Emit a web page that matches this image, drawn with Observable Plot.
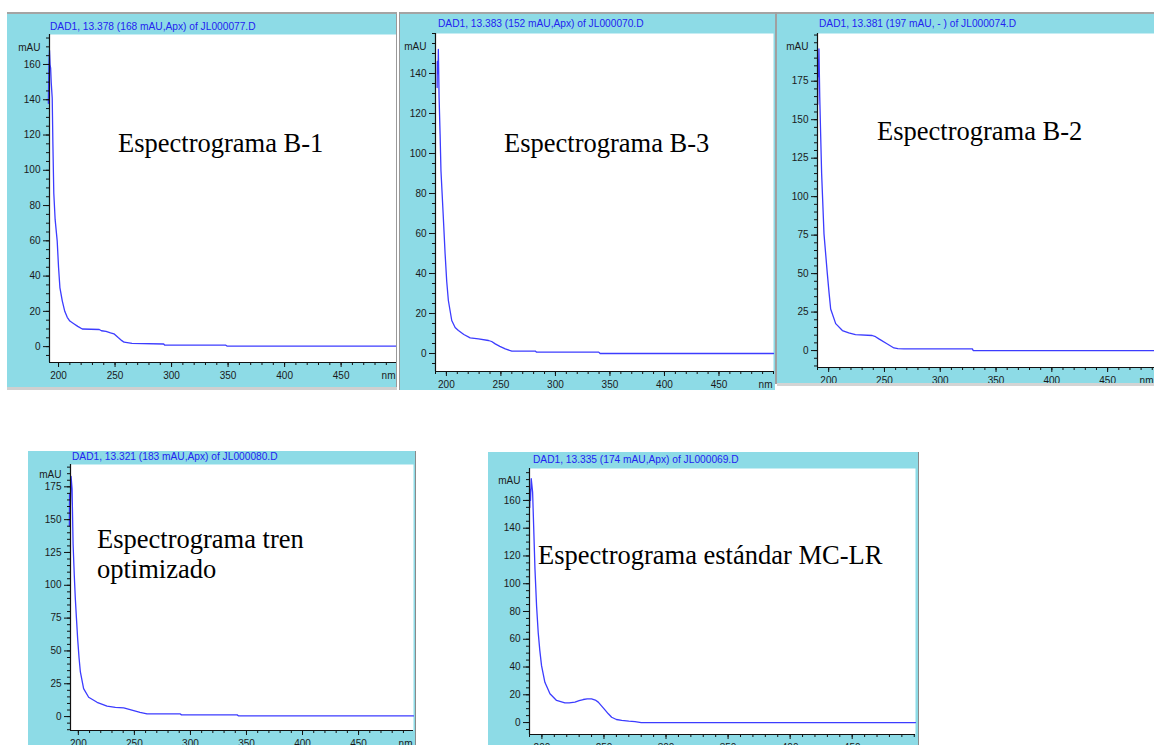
<!DOCTYPE html>
<html><head><meta charset="utf-8">
<script src="https://cdn.jsdelivr.net/npm/d3@7"></script>
<script src="https://cdn.jsdelivr.net/npm/@observablehq/plot@0.6"></script>
<style>
body{margin:0;background:#fff;width:1154px;height:745px;position:relative;overflow:hidden}
.panel{position:absolute;background:#8ddbe6;overflow:hidden}
.panel svg{position:absolute;left:0;top:0}
.hdr{position:absolute;font:10.2px "Liberation Sans",Arial,sans-serif;color:#2323f0;white-space:nowrap;line-height:1}
.ann{position:absolute;font:26.5px "Liberation Serif","Times New Roman",serif;color:#000;white-space:nowrap;line-height:30px}
.bar{position:absolute}
</style></head>
<body>
<script>
// ---------- data (wavelength nm, absorbance mAU) ----------
const b1_nm  = [191, 191.5, 192, 192.5, 193, 193.5, 194.4, 195, 195.8, 197, 198.8, 200, 201.2, 203.3, 205.5, 207.7, 210, 213.5, 217, 221, 236, 238, 242, 246, 249, 253, 256, 258, 265, 293, 294, 348, 349, 499];
const b1_mAU = [138, 160, 168, 160, 158, 150, 141, 115, 87, 72, 60, 45, 33.5, 26, 20, 16.6, 14.5, 13, 11.5, 10, 9.7, 9, 8.6, 7.8, 7.3, 5, 3.4, 2.5, 1.9, 1.5, 0.8, 0.8, 0.3, 0.3];

const b3_nm  = [191.5, 191.7, 192.3, 192.6, 193.3, 194.2, 195, 197, 198.8, 200.3, 201.8, 204.9, 208, 211, 216, 221.8, 229.4, 238.6, 241.5, 244.8, 249, 254, 260, 281.5, 282.5, 339.7, 341, 500];
const b3_mAU = [133, 146, 140, 152, 128, 110, 91.5, 70, 50, 36, 26.5, 16.5, 13, 11.5, 9.5, 7.8, 7.3, 6.5, 6, 4.8, 3.6, 2.3, 1.2, 1.2, 0.7, 0.7, 0, 0];

const b2_nm  = [190.2, 190.4, 190.8, 191.3, 192, 192.8, 193.7, 195.8, 198.8, 200.3, 201.8, 206.3, 212.3, 218, 224, 239, 242, 245, 252.6, 258.5, 262, 267.4, 328.8, 329.5, 492];
const b2_mAU = [160, 189, 178, 196, 165, 141, 115, 76, 50, 38, 27, 17.5, 13, 11.5, 10.4, 9.8, 9, 7.6, 4.3, 1.7, 1.3, 1.1, 1.1, 0, 0];

const tren_nm  = [192, 192.2, 192.6, 193.5, 194.4, 195.3, 196.4, 197.3, 198.3, 199.4, 200.6, 201.8, 204.7, 209.2, 216.7, 225.6, 233, 240.5, 249.4, 255, 261.3, 291, 292, 341.7, 343, 499];
const tren_mAU = [145, 170, 150, 183, 173.5, 131.6, 107, 90, 75, 59, 45, 34, 21.3, 14.7, 10.9, 7.9, 7, 6.6, 4.6, 3.2, 2, 2, 1.3, 1.3, 0.5, 0.5];

const mclr_nm  = [190.2, 190.4, 190.8, 191.4, 192.5, 193.5, 194.4, 195.7, 197, 198.3, 199.7, 202.4, 206.5, 211.8, 218.5, 222, 226.6, 230, 233.3, 236.5, 240, 243, 245.4, 248, 250.8, 253.5, 256.2, 260, 264.3, 270, 275, 280, 501];
const mclr_mAU = [155, 168, 160, 175.6, 166, 137, 110.7, 84, 65, 52, 41, 29, 20.7, 15.9, 14.2, 14.2, 14.7, 15.8, 16.6, 17, 17, 16.2, 14.7, 12, 9.1, 6.3, 3.8, 2.2, 1.5, 1, 0.7, 0, 0];

// ---------- tick labels ----------
const xMajor = [200, 250, 300, 350, 400, 450];
const yMajor20 = [0, 20, 40, 60, 80, 100, 120, 140, 160];
const yMajor20b = [0, 20, 40, 60, 80, 100, 120, 140];
const yMajor25 = [0, 25, 50, 75, 100, 125, 150, 175];

// ---------- texts ----------
const headers = [
  "DAD1, 13.378 (168 mAU,Apx) of JL000077.D",
  "DAD1, 13.383 (152 mAU,Apx) of JL000070.D",
  "DAD1, 13.381 (197 mAU, - ) of JL000074.D",
  "DAD1, 13.321 (183 mAU,Apx) of JL000080.D",
  "DAD1, 13.335 (174 mAU,Apx) of JL000069.D"
];
const titles = [
  "Espectrograma B-1",
  "Espectrograma B-3",
  "Espectrograma B-2",
  "Espectrograma tren<br>optimizado",
  "Espectrograma estándar MC-LR"
];

// ---------- layout ----------
const panels = [
  {nm: b1_nm, mAU: b1_mAU, yMajor: yMajor20, left: 7, top: 14, w: 390, h: 373, ml: 42, mt: 20, mr: 1, mb: 25, xd: [192, 499], yd: [-9, 177], mauDy: 9,
   hdr: [50, 21.5], ann: [118, 128]},
  {nm: b3_nm, mAU: b3_mAU, yMajor: yMajor20b, left: 400, top: 14, w: 375, h: 376, ml: 35, mt: 19, mr: 2, mb: 19, xd: [190, 500], yd: [-9, 160], mauDy: 9,
   hdr: [438, 19], ann: [504, 128]},
  {nm: b2_nm, mAU: b2_mAU, yMajor: yMajor25, left: 777, top: 14, w: 377, h: 369, ml: 40, mt: 19, mr: 0, mb: 16, xd: [190, 492], yd: [-11, 206], mauDy: 9,
   hdr: [819, 19], ann: [877, 116]},
  {nm: tren_nm, mAU: tren_mAU, yMajor: yMajor25, left: 28, top: 451, w: 387, h: 294, ml: 42, mt: 13, mr: 2, mb: 15, xd: [193, 499], yd: [-10.6, 192], mauDy: 6,
   hdr: [72, 451.5], ann: [97, 524]},
  {nm: mclr_nm, mAU: mclr_mAU, yMajor: yMajor20, left: 488, top: 452, w: 430, h: 293, ml: 41, mt: 16, mr: 3, mb: 11, xd: [190, 501], yd: [-8.6, 183], mauDy: 8,
   hdr: [533, 455], ann: [538, 540]}
];

// separators / window borders
const bars = [
  [7, 12, 390, 2, "#a4a4a4"], [399, 12, 376, 2, "#a4a4a4"], [777, 12, 377, 2, "#a4a4a4"],
  [7, 387, 390, 3, "#cfcfcf"], [396, 14, 1, 373, "#9a9a9a"],
  [399, 12, 1, 378, "#9a9a9a"], [775, 12, 2, 372, "#a0a0a0"],
  [777, 383, 377, 3, "#d4d4d4"],
  [415, 451, 1, 294, "#8a8a8a"], [918, 452, 1, 293, "#8a8a8a"]
];

const LINE = "#3c3cff";
panels.forEach((p, i) => {
  const data = p.nm.map((x, k) => ({nm: x, mAU: p.mAU[k]}));
  const xMinor = d3.range(Math.ceil(p.xd[0] / 10) * 10, p.xd[1] + 0.01, 10);
  const yMinor = d3.range(Math.ceil(p.yd[0] / 5) * 5, p.yd[1] + 0.01, 5);
  const div = document.createElement("div");
  div.className = "panel";
  Object.assign(div.style, {left: p.left + "px", top: p.top + "px", width: p.w + "px", height: p.h + "px"});
  const chart = Plot.plot({
    width: p.w, height: p.h,
    marginLeft: p.ml, marginTop: p.mt, marginRight: p.mr, marginBottom: p.mb,
    style: {background: "transparent", fontFamily: "'Liberation Sans', Arial, sans-serif", fontSize: "10px", color: "#1a1a1a"},
    x: {domain: p.xd, label: null},
    y: {domain: p.yd, label: null},
    marks: [
      Plot.frame({fill: "white", stroke: null}),
      Plot.line(data, {x: "nm", y: "mAU", stroke: LINE, strokeWidth: 1.3}),
      Plot.ruleX([p.xd[0]], {stroke: "#111", strokeWidth: 1.2}),
      Plot.ruleY([p.yd[0]], {stroke: "#111", strokeWidth: 1.2}),
      Plot.axisY(yMinor, {tickSize: 3, tickFormat: () => "", label: null, stroke: "#111"}),
      Plot.axisY(p.yMajor, {tickSize: 6, tickPadding: 3, tickFormat: d => String(d), label: null, stroke: "#111", fill: "#1a1a1a"}),
      Plot.axisX(xMinor, {tickSize: 3, tickFormat: () => "", label: null, stroke: "#111"}),
      Plot.axisX(xMajor, {tickSize: 5, tickPadding: 4, tickFormat: d => String(d), label: null, stroke: "#111", fill: "#1a1a1a"}),
      Plot.text(["mAU"], {frameAnchor: "top-left", textAnchor: "end", dx: -9, dy: p.mauDy, fill: "#1a1a1a"}),
      Plot.text(["nm"], {frameAnchor: "bottom-right", textAnchor: "end", dx: -1, dy: 16, fill: "#1a1a1a"})
    ]
  });
  div.appendChild(chart);
  document.body.appendChild(div);

  const h = document.createElement("div");
  h.className = "hdr";
  h.textContent = headers[i];
  Object.assign(h.style, {left: p.hdr[0] + "px", top: p.hdr[1] + "px"});
  document.body.appendChild(h);

  const a = document.createElement("div");
  a.className = "ann";
  a.innerHTML = titles[i];
  Object.assign(a.style, {left: p.ann[0] + "px", top: p.ann[1] + "px"});
  document.body.appendChild(a);
});

bars.forEach(([x, y, w, hh, c]) => {
  const b = document.createElement("div");
  b.className = "bar";
  Object.assign(b.style, {left: x + "px", top: y + "px", width: w + "px", height: hh + "px", background: c});
  document.body.appendChild(b);
});
</script>
</body></html>
